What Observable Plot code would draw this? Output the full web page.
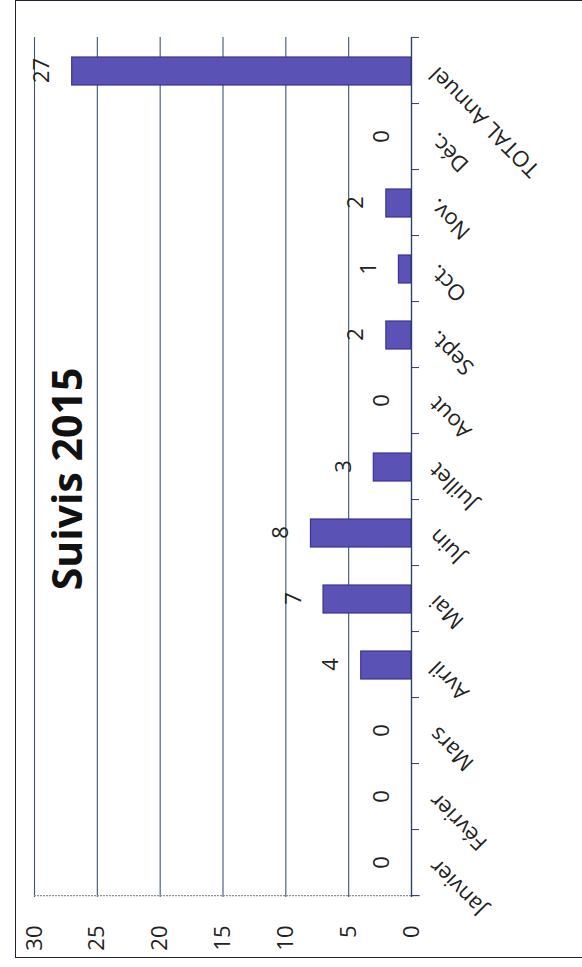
<!DOCTYPE html>
<html>
<head>
<meta charset="utf-8">
<script src="https://cdn.jsdelivr.net/npm/d3@7"></script>
<script src="https://cdn.jsdelivr.net/npm/@observablehq/plot@0.6"></script>
<style>
  html, body { margin: 0; padding: 0; background: #ffffff; width: 582px; height: 967px; overflow: hidden; }
  #rot { position: absolute; left: 0; top: 0; width: 967px; height: 582px;
         transform-origin: 0 0; transform: translate(0px, 967px) rotate(-90deg); }
  #frame { position: absolute; left: 9px; top: 15px; width: 956px; height: 640px;
           border-left: 1.5px solid #1e2530; border-top: 1.5px solid #1e2530; border-right: 2px solid #1e2530; }
  #title { position: absolute; left: 9px; width: 958px; top: 46px; text-align: center;
           font-family: 'Open Sans', sans-serif; font-weight: 700; font-size: 41px; line-height: 1; color: #111; }
  #chart { position: absolute; left: 0; top: 0; }
</style>
</head>
<body>
<div id="rot">
  <div id="frame"></div>
  <div id="chart"></div>
  <div id="title"></div>
</div>
<script>
const title = "Suivis 2015";
const categories = ["Janvier", "Février", "Mars", "Avril", "Mai", "Juin", "Juillet", "Aout", "Sept.", "Oct.", "Nov.", "Déc.", "TOTAL Annuel"];
const values = [0, 0, 0, 4, 7, 8, 3, 0, 2, 1, 2, 0, 27];
const valueTicks = [0, 5, 10, 15, 20, 25, 30];

const data = categories.map((c, i) => ({cat: c, value: values[i]}));

const W = 967, H = 582;
const mL = 70, mR = 37, mT = 34, mB = H - 411;
const step = (W - mL - mR) / categories.length;

const gridColor = "#3b5578";
const axisColor = "#2c3d78";

const chart = Plot.plot({
  width: W,
  height: H,
  marginLeft: mL,
  marginRight: mR,
  marginTop: mT,
  marginBottom: mB,
  style: {fontFamily: "'Open Sans', sans-serif", fontSize: "22px", color: "#222", background: "transparent", overflow: "visible"},
  x: {domain: categories, paddingInner: 0.58, paddingOuter: 0.29, label: null},
  y: {domain: [0, 30], label: null},
  marks: [
    Plot.gridY(valueTicks, {stroke: gridColor, strokeOpacity: 1, strokeWidth: 1.1}),
    Plot.ruleX([categories[0]], {dx: -step / 2, insetBottom: -9, stroke: "#8a8f99", strokeDasharray: "2,1", strokeWidth: 1.2}),
    Plot.barY(data, {x: "cat", y: "value", fill: "#5b52b6", stroke: "#3b3394", strokeWidth: 1.2}),
    Plot.ruleY([0], {stroke: axisColor, strokeWidth: 1.3}),
    Plot.ruleX(categories, {x: d => d, y1: 0, y2: 0, dx: -step / 2, insetBottom: -8, stroke: axisColor, strokeWidth: 1}),
    Plot.ruleX([categories[categories.length - 1]], {y1: 0, y2: 0, dx: step / 2, insetBottom: -8, stroke: axisColor, strokeWidth: 1}),
    Plot.text(data, {x: "cat", y: "value", text: d => String(d.value), dy: -30, lineAnchor: "middle", fontSize: 22, fill: "#222"}),
    Plot.axisY(valueTicks, {tickSize: 0, tickPadding: 29, fontSize: 22, fill: "#222"}),
    Plot.axisX({tickRotate: -45, tickSize: 0, tickPadding: 22, fontSize: 22, fill: "#222"})
  ]
});
document.getElementById("chart").appendChild(chart);
document.getElementById("title").textContent = title;
</script>
</body>
</html>
